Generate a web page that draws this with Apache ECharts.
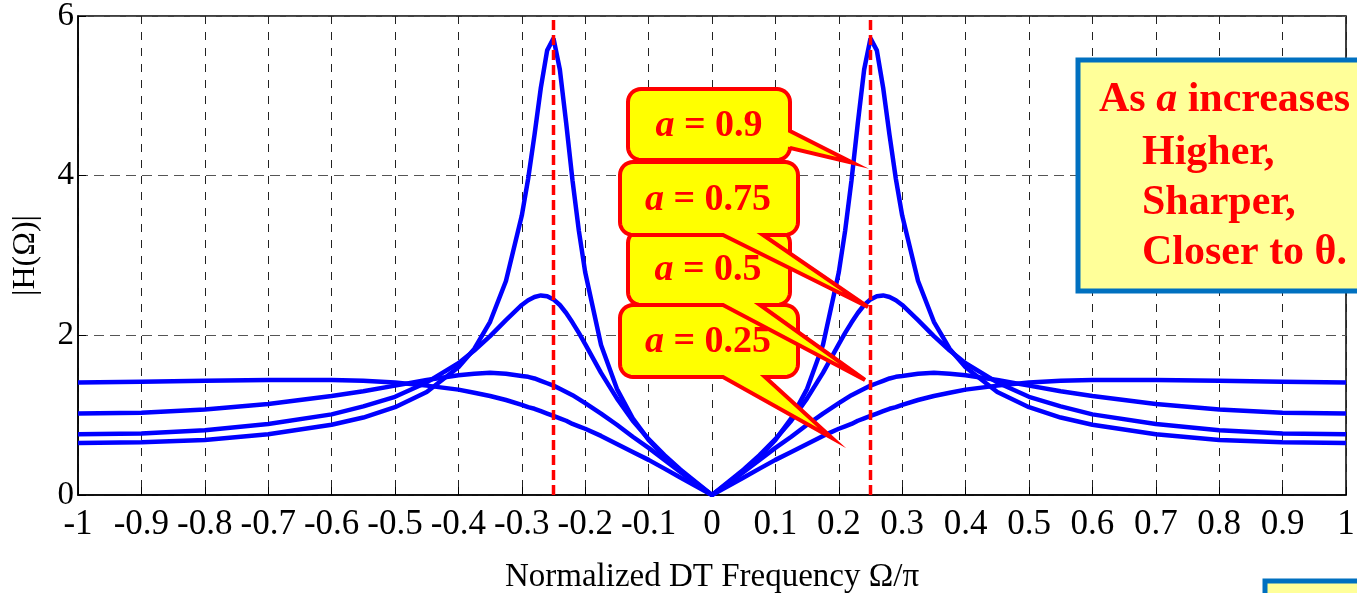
<!DOCTYPE html>
<html><head><meta charset="utf-8">
<script src="https://cdn.jsdelivr.net/npm/echarts@6/dist/echarts.min.js"></script>
<style>html,body{margin:0;padding:0;background:#fff;}#c{width:1357px;height:593px;}</style>
</head><body><div id="c"></div>
<script>
// Normalized frequency Ω/π
const freq = [-1,-0.9,-0.8,-0.7,-0.6,-0.55,-0.5,-0.45,-0.4,-0.375,-0.35,-0.325,-0.3,-0.29,-0.28,-0.27,-0.26,-0.25,-0.24,-0.23,-0.22,-0.21,-0.2,-0.175,-0.15,-0.125,-0.1,-0.075,-0.05,-0.025,
  0,
  0.025,0.05,0.075,0.1,0.125,0.15,0.175,0.2,0.21,0.22,0.23,0.24,0.25,0.26,0.27,0.28,0.29,0.3,0.325,0.35,0.375,0.4,0.45,0.5,0.55,0.6,0.7,0.8,0.9,1];
// |H(Ω)|
const magA025 = [1.41,1.42,1.43,1.44,1.44,1.43,1.41,1.37,1.32,1.28,1.24,1.19,1.13,1.10,1.08,1.05,1.02,0.99,0.96,0.93,0.89,0.86,0.83,0.74,0.64,0.54,0.44,0.33,0.22,0.11,
  0,
  0.11,0.22,0.33,0.44,0.54,0.64,0.74,0.83,0.86,0.89,0.93,0.96,0.99,1.02,1.05,1.08,1.10,1.13,1.19,1.24,1.28,1.32,1.37,1.41,1.43,1.44,1.44,1.43,1.42,1.41];
const magA05 = [1.02,1.03,1.07,1.14,1.24,1.30,1.37,1.44,1.50,1.52,1.53,1.52,1.49,1.48,1.46,1.43,1.40,1.37,1.33,1.29,1.25,1.20,1.15,1.02,0.88,0.73,0.59,0.44,0.29,0.14,
  0,
  0.14,0.29,0.44,0.59,0.73,0.88,1.02,1.15,1.20,1.25,1.29,1.33,1.37,1.40,1.43,1.46,1.48,1.49,1.52,1.53,1.52,1.50,1.44,1.37,1.30,1.24,1.14,1.07,1.03,1.02];
const magA075 = [0.76,0.77,0.81,0.89,1.01,1.11,1.23,1.41,1.65,1.81,1.99,2.19,2.38,2.44,2.48,2.50,2.49,2.45,2.38,2.28,2.16,2.03,1.89,1.53,1.21,0.93,0.70,0.50,0.32,0.16,
  0,
  0.16,0.32,0.50,0.70,0.93,1.21,1.53,1.89,2.03,2.16,2.28,2.38,2.45,2.49,2.50,2.48,2.44,2.38,2.19,1.99,1.81,1.65,1.41,1.23,1.11,1.01,0.89,0.81,0.77,0.76];
const magA09 = [0.65,0.66,0.69,0.76,0.88,0.97,1.10,1.29,1.60,1.83,2.17,2.68,3.50,3.96,4.51,5.10,5.57,5.72,5.33,4.66,3.94,3.31,2.79,1.88,1.33,0.96,0.69,0.48,0.30,0.15,
  0,
  0.15,0.30,0.48,0.69,0.96,1.33,1.88,2.79,3.31,3.94,4.66,5.33,5.72,5.57,5.10,4.51,3.96,3.50,2.68,2.17,1.83,1.60,1.29,1.10,0.97,0.88,0.76,0.69,0.66,0.65];
const seriesNames = ['a = 0.25','a = 0.5','a = 0.75','a = 0.9'];
const calloutValues = ['0.25','0.5','0.75','0.9'];
const thetaLines = [-0.25, 0.25];
const yRange = [0, 6];
const noteLines = ['Higher,', 'Sharper,', 'Closer to θ.'];

const FONT = '"Liberation Serif","Times New Roman",serif';
const chart = echarts.init(document.getElementById('c'), null, {renderer:'canvas'});

function callout(x0,y0,x1,y1,r,edge,b1,b2,tip){
  const pts=[];
  const arc=(cx,cy,a0,a1)=>{for(let k=0;k<=8;k++){const a=(a0+(a1-a0)*k/8)*Math.PI/180;pts.push([cx+r*Math.cos(a),cy+r*Math.sin(a)]);}};
  arc(x1-r,y0+r,-90,0);
  if(edge==='right'){pts.push([x1,b1],tip,[x1,b2]);}
  arc(x1-r,y1-r,0,90);
  if(edge==='bottom'){pts.push([b2,y1],tip,[b1,y1]);}
  arc(x0+r,y1-r,90,180);
  arc(x0+r,y0+r,180,270);
  return pts;
}
const boxStyle={fill:'#FFFF00',stroke:'#FF0000',lineWidth:4};
const rich={i:{fontFamily:FONT,fontStyle:'italic',fontWeight:'bold',fontSize:38,fill:'#FF0000'},
            b:{fontFamily:FONT,fontWeight:'bold',fontSize:38,fill:'#FF0000'}};
function label(x,y,v){return {type:'text',x:x,y:y,z:101,style:{text:'{i|a}{b| = '+v+'}',rich:rich,align:'center',verticalAlign:'middle',fill:'#FF0000'}};}

const callouts=[
  {type:'polygon',z:100,shape:{points:callout(620,305,798,377,13,'bottom',723,765,[832,438])},style:boxStyle},
  label(708,342,calloutValues[0]),
  {type:'polygon',z:100,shape:{points:callout(628,230,790,305,13,'bottom',723,760,[865,380])},style:boxStyle},
  label(708,270,calloutValues[1]),
  {type:'polygon',z:100,shape:{points:callout(628,89,790,160,13,'right',131,148,[853,163])},style:boxStyle},
  label(709,126,calloutValues[3]),
  {type:'polygon',z:100,shape:{points:callout(620,162,798,235,13,'bottom',723,763,[868,307])},style:boxStyle},
  label(708,200,calloutValues[2])
];
const noteRich={b:{fontFamily:FONT,fontWeight:'bold',fontSize:42,fill:'#FF0000'},
                i:{fontFamily:FONT,fontWeight:'bold',fontStyle:'italic',fontSize:42,fill:'#FF0000'}};
const note=[
  {type:'rect',z:100,shape:{x:1078,y:60,width:320,height:231},style:{fill:'#FFFF99',stroke:'#0070C0',lineWidth:5}},
  {type:'text',z:101,x:1099,y:100,style:{text:'{b|As }{i|a}{b| increases}',rich:noteRich,align:'left',verticalAlign:'middle'}},
  {type:'rect',z:100,shape:{x:1265,y:581,width:120,height:40},style:{fill:'#FFFF99',stroke:'#0070C0',lineWidth:5}}
];
const noteY=[153,203,253];
noteLines.forEach((t,i)=>note.push({type:'text',z:101,x:1142,y:noteY[i],style:{text:'{b|'+t+'}',rich:noteRich,align:'left',verticalAlign:'middle'}}));

const mags=[magA025,magA05,magA075,magA09];
const series=mags.map((m,k)=>({
  name:seriesNames[k],type:'line',symbol:'none',showSymbol:false,smooth:false,z:2,
  lineStyle:{color:'#0000FF',width:4.5},
  data:freq.map((x,i)=>[x,m[i]])
}));
thetaLines.forEach(t=>series.push({
  type:'line',symbol:'none',showSymbol:false,z:3,
  lineStyle:{color:'#FF0000',width:3.5,type:[10,5]},
  data:[[t,yRange[0]],[t,yRange[1]]]
}));

chart.setOption({
  animation:false,
  backgroundColor:'#fff',
  grid:{left:78,right:11,top:16,bottom:98,containLabel:false,outerBoundsMode:'none',show:true,borderColor:'#000',borderWidth:1.5,backgroundColor:'transparent'},
  xAxis:{type:'value',min:-1,max:1,interval:0.1,
    axisLine:{show:true,onZero:false,lineStyle:{color:'#000',width:1.5}},
    axisTick:{show:true,inside:true,length:8,lineStyle:{color:'#000'}},
    axisLabel:{color:'#000',fontFamily:FONT,fontSize:35,margin:12},
    splitLine:{show:true,lineStyle:{type:[8,8],color:'#222',width:1}},
    name:'Normalized DT Frequency Ω/π',nameLocation:'middle',nameGap:66,
    nameTextStyle:{color:'#000',fontFamily:FONT,fontSize:33}},
  yAxis:{type:'value',min:yRange[0],max:yRange[1],interval:2,
    axisLine:{show:true,onZero:false,lineStyle:{color:'#000',width:1.5}},
    axisTick:{show:true,inside:true,length:8,lineStyle:{color:'#000'}},
    axisLabel:{color:'#000',fontFamily:FONT,fontSize:33,margin:4},
    splitLine:{show:true,lineStyle:{type:[10,6],color:'#555',width:1}},
    name:'|H(Ω)|',nameLocation:'middle',nameGap:36,nameRotate:90,
    nameTextStyle:{color:'#000',fontFamily:FONT,fontSize:32}},
  series:series,
  graphic:{elements:callouts.concat(note)}
});
</script></body></html>
